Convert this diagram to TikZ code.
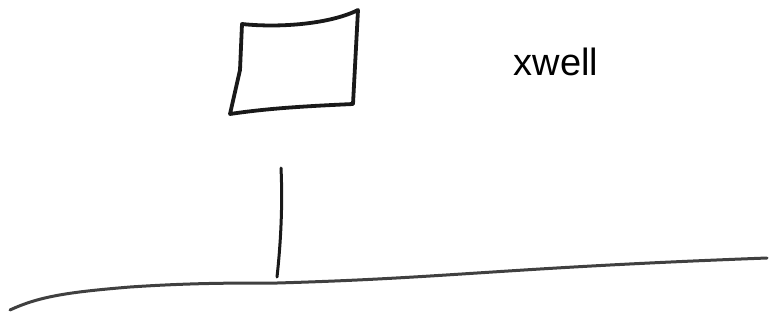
\documentclass[tikz,border=0pt]{standalone}
\usepackage{fontspec}
\setmainfont{Liberation Sans}
\begin{document}
\begin{tikzpicture}[x=1pt,y=-1pt,
  sketch/.style={line width=3.8pt,line cap=round,line join=round,black!90},
  ground/.style={line width=3pt,line cap=round,black!75},
  label/.style={font=\fontsize{38}{42}\selectfont,inner sep=0pt}]
\useasboundingbox (0,0) rectangle (770,325);
% box
\coordinate (tl) at (242,24);
\coordinate (tr) at (358,10);
\coordinate (br) at (353,104);
\coordinate (bl) at (230,114);
\draw[sketch] (tl) .. controls (280,28) and (330,24) .. (tr)
  -- (br) .. controls (310,106) and (270,108) .. (bl)
  -- (240,70) -- cycle;
% vertical stem
\coordinate (vt) at (281,168);
\coordinate (vb) at (277,277);
\draw[sketch,line width=3pt] (vt) .. controls (283,210) and (280,250) .. (vb);
% ground line
\coordinate (g0) at (10,310);
\coordinate (g1) at (277,283);
\coordinate (g2) at (767,258);
\draw[ground] (g0) .. controls (40,296) and (70,292) .. (130,287)
  .. controls (190,283) and (230,283) .. (g1)
  .. controls (450,278) and (500,268) .. (g2);
% label
\node[label] (xw) at (556,62) {xwell};
\end{tikzpicture}
\end{document}
